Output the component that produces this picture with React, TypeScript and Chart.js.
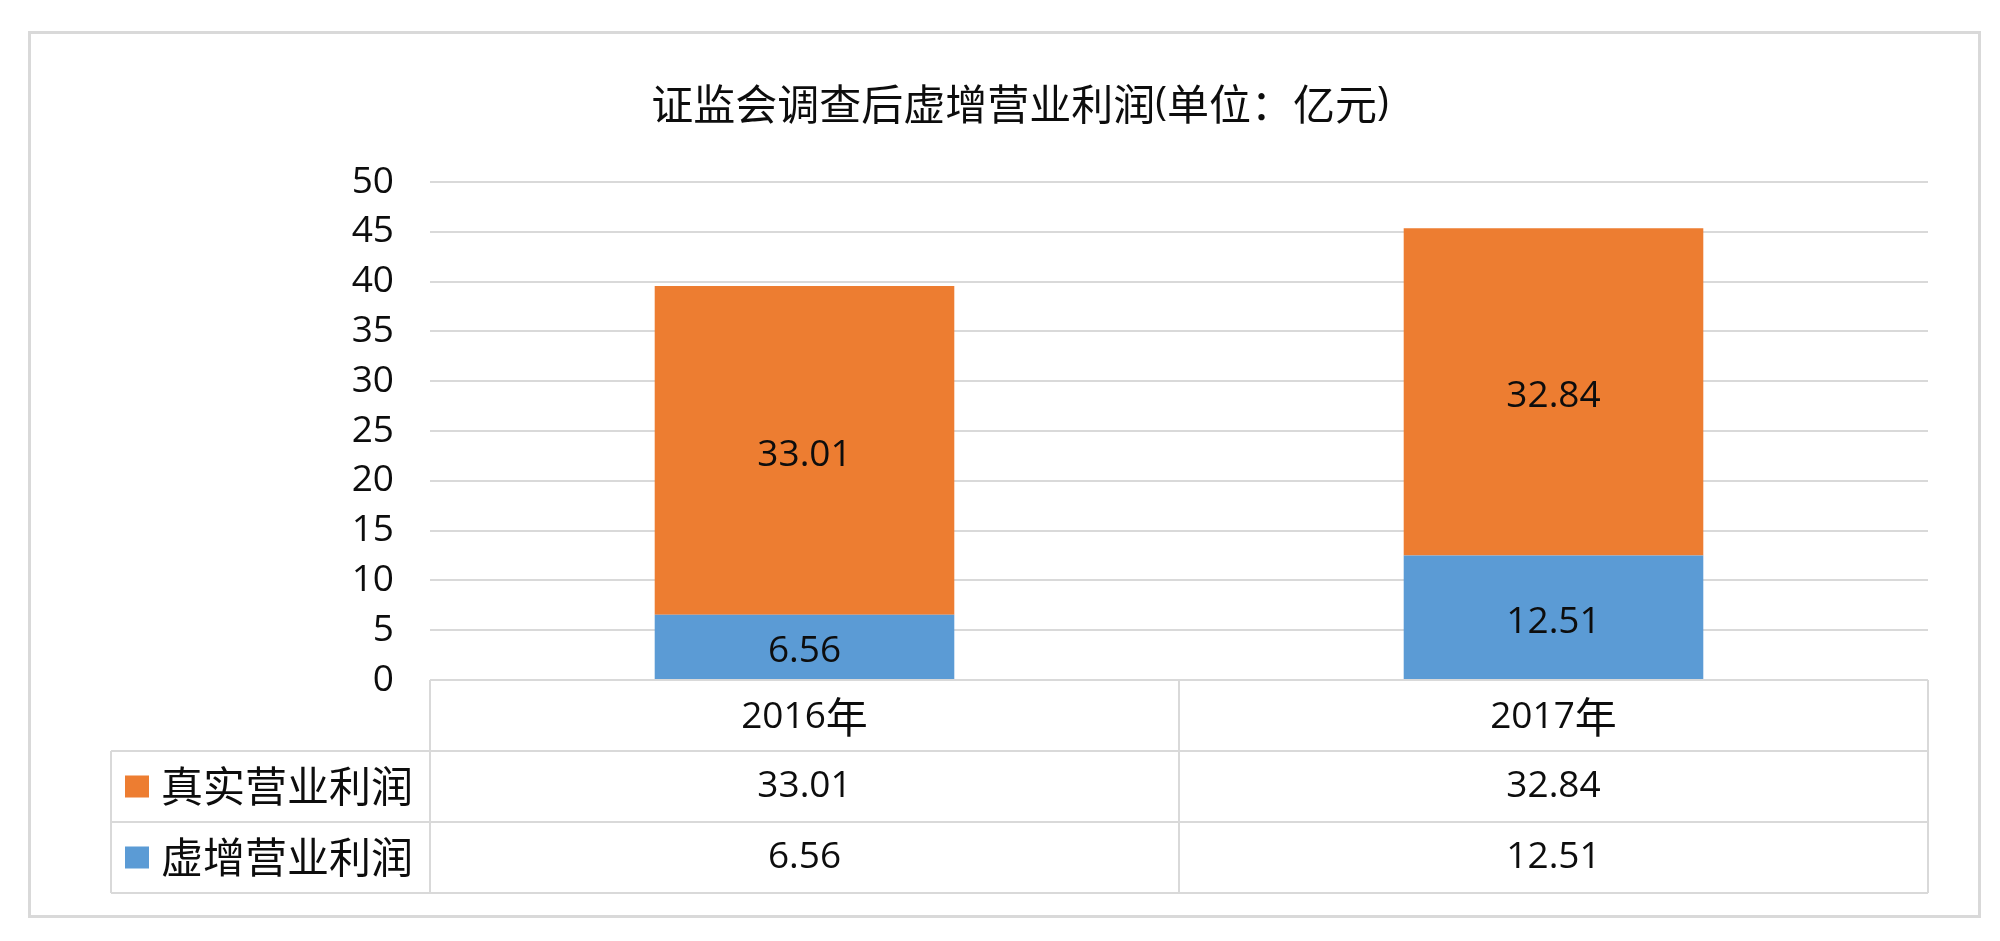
import React, { useEffect, useRef } from 'react';
import { Chart, registerables } from 'chart.js';

Chart.register(...registerables);

const categories = ['2016年', '2017年'];
const inflatedName = '虚增营业利润';
const realName = '真实营业利润';
const inflatedValues = [6.56, 12.51];
const realValues = [33.01, 32.84];
const yMin = 0;
const yMax = 50;
const yStep = 5;
const titleText = '证监会调查后虚增营业利润(单位：亿元)';

const BLUE = '#5B9BD5';
const ORANGE = '#ED7D31';
const GRID = '#D9D9D9';
const TEXT = '#0D0D0D';
const LATIN = "'Open Sans', 'Noto Sans', sans-serif";
const CJK = "'Noto Sans CJK SC', sans-serif";
const NUM_SIZE = 37;
const CJK_SIZE = 42;

function isCJK(ch: string) {
  return /[\u2e80-\u9fff\uff00-\uffef\u3000-\u303f]/.test(ch);
}

function splitRuns(text: string) {
  const rs: { t: string; cjk: boolean }[] = [];
  for (const ch of text) {
    const c = isCJK(ch);
    if (rs.length && rs[rs.length - 1].cjk === c) rs[rs.length - 1].t += ch;
    else rs.push({ t: ch, cjk: c });
  }
  return rs;
}

function fontFor(cjk: boolean, cjkSize = CJK_SIZE, numSize = NUM_SIZE) {
  return cjk ? `${cjkSize}px ${CJK}` : `${numSize}px ${LATIN}`;
}

function drawMixed(
  ctx: CanvasRenderingContext2D,
  text: string,
  x: number,
  y: number,
  align: 'center' | 'left',
  cjkSize = CJK_SIZE,
  numSize = NUM_SIZE
) {
  const rs = splitRuns(text);
  let total = 0;
  const widths = rs.map((r) => {
    ctx.font = fontFor(r.cjk, cjkSize, numSize);
    const w = ctx.measureText(r.t).width;
    total += w;
    return w;
  });
  let cx = align === 'center' ? x - total / 2 : x;
  ctx.textAlign = 'left';
  ctx.textBaseline = 'middle';
  ctx.fillStyle = TEXT;
  rs.forEach((r, i) => {
    ctx.font = fontFor(r.cjk, cjkSize, numSize);
    ctx.fillText(r.t, cx, y);
    cx += widths[i];
  });
}

const framePlugin = {
  id: 'frame',
  beforeDraw(chart: any) {
    const ctx = chart.ctx as CanvasRenderingContext2D;
    ctx.save();
    ctx.fillStyle = '#fff';
    ctx.fillRect(0, 0, chart.width, chart.height);
    ctx.strokeStyle = GRID;
    ctx.lineWidth = 3;
    ctx.strokeRect(29.5, 32.5, 1950, 884);
    ctx.restore();
  },
  afterDraw(chart: any) {
    const ctx = chart.ctx as CanvasRenderingContext2D;
    const area = chart.chartArea;
    const xs = chart.scales.x;
    ctx.save();

    // title
    drawMixed(ctx, titleText, 1020, 104, 'center', 42, 40);

    // data labels inside segments
    chart.data.datasets.forEach((ds: any, di: number) => {
      const meta = chart.getDatasetMeta(di);
      meta.data.forEach((el: any, i: number) => {
        const v = ds.data[i];
        const cy = (el.y + el.base) / 2 + 5;
        ctx.font = `${NUM_SIZE}px ${LATIN}`;
        ctx.fillStyle = TEXT;
        ctx.textAlign = 'center';
        ctx.textBaseline = 'middle';
        ctx.fillText(v.toFixed(2), el.x, cy);
      });
    });

    // data table
    const top = area.bottom;
    const rowH = 71;
    const r1 = top + rowH;
    const r2 = r1 + rowH;
    const r3 = r2 + rowH;
    const legendLeft = 111;
    const centers = categories.map((_, i) => xs.getPixelForValue(i));
    const bounds = [area.left];
    for (let i = 0; i < centers.length - 1; i++) bounds.push((centers[i] + centers[i + 1]) / 2);
    bounds.push(area.right);

    ctx.strokeStyle = GRID;
    ctx.lineWidth = 2;
    ctx.beginPath();
    ctx.moveTo(area.left, top);
    ctx.lineTo(area.right, top);
    [r1, r2, r3].forEach((y) => {
      ctx.moveTo(legendLeft, y);
      ctx.lineTo(area.right, y);
    });
    bounds.forEach((x) => {
      ctx.moveTo(x, top);
      ctx.lineTo(x, r3);
    });
    ctx.moveTo(legendLeft, r1);
    ctx.lineTo(legendLeft, r3);
    ctx.stroke();

    // header row: categories
    categories.forEach((c, i) => drawMixed(ctx, c, centers[i], (top + r1) / 2 + 2, 'center'));

    // rows
    const rows = [
      { name: realName, color: ORANGE, values: realValues, y: (r1 + r2) / 2 },
      { name: inflatedName, color: BLUE, values: inflatedValues, y: (r2 + r3) / 2 },
    ];
    rows.forEach((row) => {
      ctx.fillStyle = row.color;
      ctx.fillRect(125, row.y - 11, 24, 22);
      drawMixed(ctx, row.name, 161, row.y, 'left');
      row.values.forEach((v, i) => drawMixed(ctx, v.toFixed(2), centers[i], row.y, 'center'));
    });

    ctx.restore();
  },
};

export default function App() {
  const ref = useRef<HTMLCanvasElement>(null);
  useEffect(() => {
    if (!ref.current) return;
    const chart = new Chart(ref.current, {
      type: 'bar',
      data: {
        labels: categories,
        datasets: [
          {
            label: inflatedName,
            data: inflatedValues,
            backgroundColor: BLUE,
            barPercentage: 0.4,
            categoryPercentage: 1,
          },
          {
            label: realName,
            data: realValues,
            backgroundColor: ORANGE,
            barPercentage: 0.4,
            categoryPercentage: 1,
          },
        ],
      },
      options: {
        responsive: false,
        animation: false,
        devicePixelRatio: 1,
        layout: { padding: { left: 0, top: 182, right: 72, bottom: 261 } },
        plugins: {
          legend: { display: false },
          title: { display: false },
          tooltip: { enabled: false },
        },
        scales: {
          x: {
            stacked: true,
            display: false,
          },
          y: {
            stacked: true,
            min: yMin,
            max: yMax,
            afterFit: (scale: any) => {
              scale.width = 430;
            },
            ticks: {
              stepSize: yStep,
              padding: 36,
              color: TEXT,
              font: { family: "'Open Sans', 'Noto Sans', sans-serif", size: NUM_SIZE },
            },
            grid: { color: GRID, lineWidth: 2, drawTicks: false },
            border: { display: false },
          },
        },
      },
      plugins: [framePlugin],
    });
    return () => chart.destroy();
  }, []);
  return (
    <div style={{ position: 'fixed', left: 0, top: 0, width: 2000, height: 941, background: '#fff' }}>
      <canvas ref={ref} width={2000} height={941} style={{ display: 'block', width: 2000, height: 941 }} />
    </div>
  );
}
